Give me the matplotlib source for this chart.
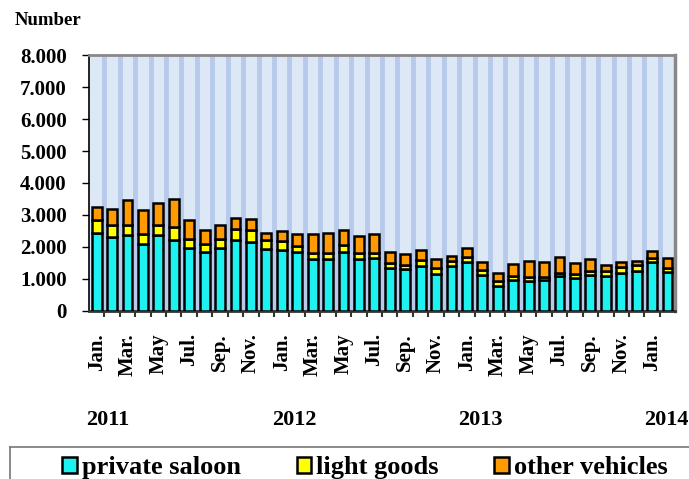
#Registered vehicles per month, stacked by type
import numpy as np
import matplotlib.pyplot as plt
from matplotlib.ticker import FuncFormatter
from matplotlib.lines import Line2D
from matplotlib.transforms import blended_transform_factory

plt.rcParams['font.family'] = ['Liberation Serif', 'DejaVu Serif']
plt.rcParams['font.weight'] = 'bold'

# months Jan 2011 .. Feb 2014
months = ['Jan.', 'Feb.', 'Mar.', 'Apr.', 'May', 'Jun.', 'Jul.', 'Aug.', 'Sep.', 'Oct.', 'Nov.', 'Dec.'] * 3 + ['Jan.', 'Feb.']
years = ['2011', '2012', '2013', '2014']

private_saloon = [2440, 2300, 2370, 2090, 2370, 2210, 1970, 1830, 1980, 2230, 2140, 1950,
                  1900, 1850, 1620, 1630, 1850, 1610, 1640, 1350, 1300, 1400, 1150, 1410,
                  1540, 1120, 790, 970, 940, 970, 1090, 1020, 1120, 1090, 1190, 1260,
                  1520, 1210]
light_goods = [390, 380, 330, 300, 330, 400, 290, 260, 280, 320, 380, 260,
               280, 190, 180, 190, 210, 190, 180, 140, 120, 190, 180, 150,
               150, 160, 140, 120, 130, 100, 110, 130, 130, 160, 190, 170,
               120, 140]
other_vehicles = [420, 520, 760, 760, 660, 900, 570, 430, 440, 340, 340, 230,
                  320, 350, 600, 620, 480, 540, 570, 360, 350, 310, 280, 160,
                  280, 250, 240, 370, 500, 470, 490, 340, 360, 200, 160, 130,
                  240, 290]

x = np.arange(len(months))
ps = np.array(private_saloon)
lg = np.array(light_goods)
ov = np.array(other_vehicles)

fig = plt.figure(figsize=(6.89, 4.79), dpi=100)
ax = fig.add_axes([0.129, 0.351, 0.851, 0.534])
ax.set_facecolor('#dde8f6')

w = 0.64
b1 = ax.bar(x, ps, w, color='#1ef2f0', edgecolor='black', linewidth=1.8, zorder=3)
b2 = ax.bar(x, lg, w, bottom=ps, color='#ffff00', edgecolor='black', linewidth=1.8, zorder=3)
b3 = ax.bar(x, ov, w, bottom=ps + lg, color='#ff9a00', edgecolor='black', linewidth=1.8, zorder=3)

ax.set_xlim(-0.5, len(months) - 0.5)
ax.set_ylim(0, 8000)

# stripes between bars
ax.set_xticks(x[::2])
ax.set_xticklabels(months[::2], rotation=90, fontsize=15, fontweight='bold')
ax.set_xticks(x[:-1] + 0.5, minor=True)
ax.grid(which='minor', axis='x', color='#b8caec', linewidth=3.5, zorder=1)
ax.tick_params(axis='x', which='major', length=0, pad=16)
ax.tick_params(axis='x', which='minor', length=4, width=1.5, color='#333333', direction='out')

ax.set_yticks(np.arange(0, 8001, 1000))
ax.yaxis.set_major_formatter(FuncFormatter(lambda v, p: f'{int(v):,}'.replace(',', '.')))
ax.tick_params(axis='y', labelsize=15, length=5, width=1, pad=11)
for lab in ax.get_yticklabels():
    lab.set_fontweight('bold')

ax.spines['left'].set_color('black')
ax.spines['left'].set_linewidth(1.2)
ax.spines['bottom'].set_color('#333333')
ax.spines['bottom'].set_linewidth(2)
ax.spines['top'].set_color('#888888')
ax.spines['top'].set_linewidth(2)
ax.spines['right'].set_color('#888888')
ax.spines['right'].set_linewidth(2.5)

fig.text(0.022, 0.957, 'Number', fontsize=13.5, fontweight='bold', va='center')

# year labels under the month labels
year_pos = [0.7, 12.8, 24.9, 36.9]
trans = blended_transform_factory(ax.transData, fig.transFigure)
for yx, yr in zip(year_pos, years):
    ax.text(yx, 0.123, yr, transform=trans, ha='center', va='center',
            fontsize=16, fontweight='bold', clip_on=False)

# separator line above legend
fig.add_artist(Line2D([0.015, 1.0], [0.067, 0.067], transform=fig.transFigure, color='#777777', linewidth=1.2))
fig.add_artist(Line2D([0.015, 0.015], [0.0, 0.067], transform=fig.transFigure, color='#777777', linewidth=1.2))

fig.legend([b1, b2, b3], ['private saloon', 'light goods', 'other vehicles'],
           loc='center', bbox_to_anchor=(0.53, 0.024), ncol=3, frameon=False,
           prop={'size': 19, 'weight': 'bold'}, handlelength=0.55, handleheight=0.55,
           handletextpad=0.2, columnspacing=2.1, borderpad=0)

fig.savefig('out.png', dpi=100)
